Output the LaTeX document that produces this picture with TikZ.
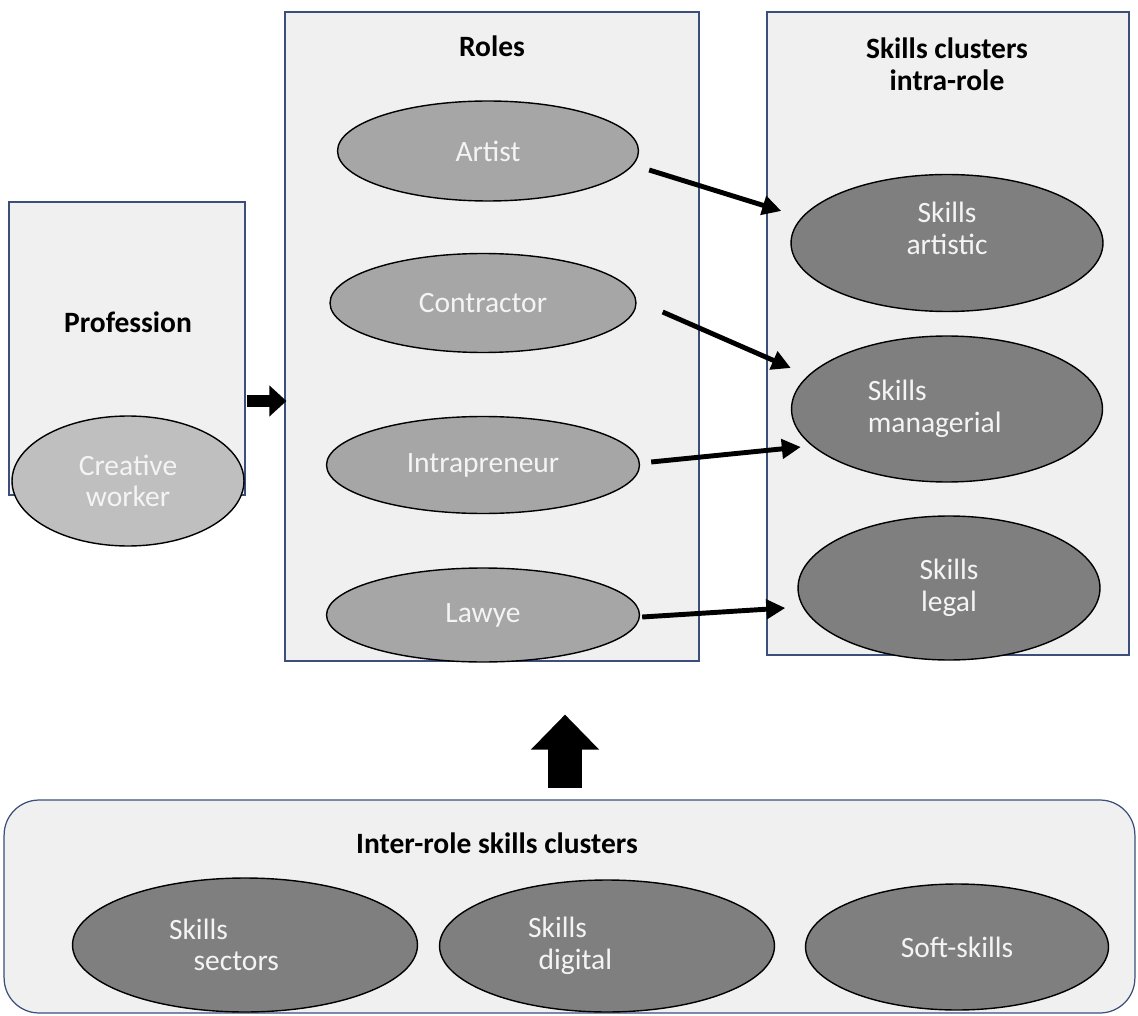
\documentclass[tikz,border=0pt]{standalone}
\usepackage{fontspec}
\setmainfont{Carlito}
\usetikzlibrary{arrows.meta,calc,shapes.geometric}
\definecolor{panelfill}{HTML}{F0F0F0}
\definecolor{panelline}{HTML}{3B4F7A}
\definecolor{profgray}{HTML}{BFBFBF}
\definecolor{rolegray}{HTML}{A6A6A6}
\definecolor{skillgray}{HTML}{7F7F7F}
\definecolor{softwhite}{HTML}{F4F4F4}
\begin{document}
\begin{tikzpicture}[x=0.02cm, y=-0.02cm,
    every node/.style={font=\fontsize{16.8}{18}\selectfont, inner sep=0pt},
    panel/.style={draw=panelline, line width=0.7pt, fill=panelfill, rectangle},
    heading/.style={font=\fontsize{16.8}{18}\selectfont\bfseries, text=black, align=center},
    oval/.style={ellipse, draw=black, line width=0.8pt, text=softwhite, align=center},
    link/.style={-{Triangle[length=0.38cm,width=0.38cm]}, line width=2.8pt, black}]
    \useasboundingbox (0,0) rectangle (1138,1016);
    % panels
    \node[panel, minimum width=4.72cm, minimum height=5.86cm] (prof) at (127,348.5) {};
    \node[panel, minimum width=8.28cm, minimum height=12.98cm] (roles) at (492,336.5) {};
    \node[panel, minimum width=7.24cm, minimum height=12.86cm] (intra) at (948,333.5) {};
    \node[panel, rounded corners=0.7cm, minimum width=22.62cm, minimum height=4.26cm] (inter) at (569.5,906.5) {};
    % headings
    \node[heading] (profhead) at (128,322) {Profession};
    \node[heading] (roleshead) at (492,46) {Roles};
    \node[heading] (intrahead) at (947,64) {Skills clusters\\intra-role};
    \node[heading] (interhead) at (497,843) {Inter-role skills clusters};
    % profession
    \node[oval, fill=profgray, minimum width=4.64cm, minimum height=2.6cm] (creative) at (128,481) {Creative\\worker};
    % roles
    \node[oval, fill=rolegray, minimum width=6.02cm, minimum height=2.0cm] (artist) at (488,151) {Artist};
    \node[oval, fill=rolegray, minimum width=6.12cm, minimum height=1.98cm] (contractor) at (483,303) {Contractor};
    \node[oval, fill=rolegray, minimum width=6.26cm, minimum height=1.94cm] (intrapreneur) at (483,465) {Intrapreneur};
    \node[oval, fill=rolegray, minimum width=6.26cm, minimum height=1.88cm] (lawye) at (483,615) {Lawye};
    % skills intra-role
    \node[oval, fill=skillgray, minimum width=6.24cm, minimum height=2.74cm] (artistic) at (947,243) {Skills\\artistic\\[-1pt]};
    \node[oval, fill=skillgray, minimum width=6.22cm, minimum height=2.92cm, align=left] (managerial) at (947,409) {Skills\\managerial\hspace*{14pt}};
    \node[oval, fill=skillgray, minimum width=6.04cm, minimum height=2.88cm] (legal) at (949,588) {Skills\\legal};
    % skills inter-role
    \node[oval, fill=skillgray, minimum width=6.9cm, minimum height=2.68cm, align=left] (sectors) at (245,945) {Skills\\\hspace*{14pt}sectors\hspace*{24pt}};
    \node[oval, fill=skillgray, minimum width=6.7cm, minimum height=2.64cm, align=left] (digital) at (607,946) {Skills\\\hspace*{6pt}digital\hspace*{42pt}};
    \node[oval, fill=skillgray, minimum width=6.06cm, minimum height=2.52cm] (softskills) at (957,947) {Soft-skills};
    % arrows
    \draw[-{Triangle[length=0.34cm,width=0.6cm]}, line width=0.26cm] ($(prof.east)+(1,52.5)$) -- ($(roles.west)+(2,64.5)$);
    \draw[-{Triangle[length=0.7cm,width=1.32cm]}, line width=0.68cm] ($(inter.north)+(-4.5,-11)$) -- ($(roles.south)+(73,53)$);
    \draw[link] ($(artist.east)+(10,19)$) -- ($(artistic.west)+(-9,-32)$);
    \draw[link] ($(contractor.east)+(26,9)$) -- ($(managerial.west)+(0,-41)$);
    \draw[link] ($(intrapreneur.east)+(11,-3)$) -- ($(managerial.west)+(10,38)$);
    \draw[link] ($(lawye.east)+(2,2)$) -- ($(legal.west)+(-12,20)$);
\end{tikzpicture}
\end{document}
